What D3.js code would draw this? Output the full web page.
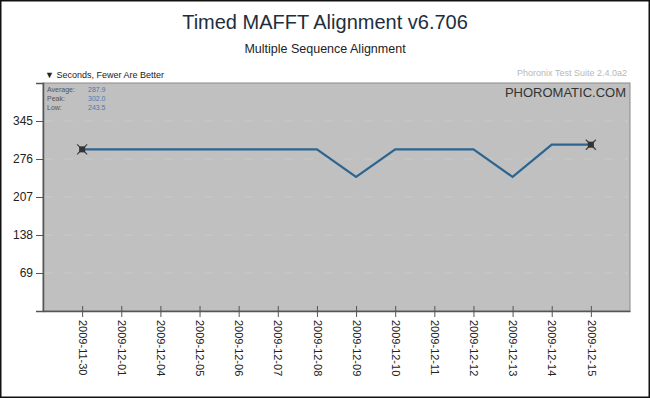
<!DOCTYPE html>
<html><head><meta charset="utf-8">
<script src="https://cdn.jsdelivr.net/npm/d3@7"></script>
<style>body{margin:0;background:#fff}svg{display:block}text{font-family:"Liberation Sans",Arial,sans-serif}</style>
</head><body>
<svg id="c" width="650" height="398"></svg>
<script>
const dates = ["2009-11-30","2009-12-01","2009-12-04","2009-12-05","2009-12-06","2009-12-07","2009-12-08","2009-12-09","2009-12-10","2009-12-11","2009-12-12","2009-12-13","2009-12-14","2009-12-15"];
const seconds = [293.5,293.5,293.5,293.5,293.5,293.5,293.5,243.5,293.5,293.5,293.5,243.5,302.0,302.0];
const yTicks = [69,138,207,276,345];
const statLabels = ["Average:","Peak:","Low:"];
const statValues = ["287.9","302.0","243.5"];

const svg = d3.select("#c");
const W=650,H=398;
const L=43,R=630,T=83,B=311;
svg.append("rect").attr("x",0.5).attr("y",0.5).attr("width",W-1).attr("height",H-1).attr("fill","#fff").attr("stroke","#111").attr("stroke-width",2);

const x = d3.scalePoint().domain(dates).range([L,R]).padding(1);
const y = d3.scaleLinear().domain([0,414]).range([B,T]);

svg.append("text").attr("x",325).attr("y",29).attr("text-anchor","middle").attr("font-size",20).attr("fill","#1e2e3e").text("Timed MAFFT Alignment v6.706");
svg.append("text").attr("x",325).attr("y",53).attr("text-anchor","middle").attr("font-size",12.5).attr("fill","#222").text("Multiple Sequence Alignment");
svg.append("text").attr("x",45).attr("y",78).attr("font-size",9).attr("fill","#222").text("▼ Seconds, Fewer Are Better");
svg.append("text").attr("x",627).attr("y",76).attr("text-anchor","end").attr("font-size",9).attr("fill","#b8b8b8").text("Phoronix Test Suite 2.4.0a2");

svg.append("rect").attr("x",L).attr("y",T).attr("width",R-L).attr("height",B-T).attr("fill","#c0c0c0").attr("stroke","#8a8a8a").attr("stroke-width",1);

// grid
svg.append("g").selectAll("line").data(yTicks).join("line")
  .attr("x1",L+2).attr("x2",R-2).attr("y1",d=>y(d)).attr("y2",d=>y(d))
  .attr("stroke","#cacac4").attr("stroke-dasharray","8,12").attr("stroke-width",1);

svg.append("text").attr("x",626).attr("y",97).attr("text-anchor","end").attr("font-size",13).attr("fill","#333").text("PHOROMATIC.COM");

const st = svg.append("g");
statLabels.forEach((s,i)=>{
  st.append("text").attr("x",47).attr("y",92+i*9).attr("font-size",7).attr("fill","#555").text(s);
  st.append("text").attr("x",88).attr("y",92+i*9).attr("font-size",7).attr("fill","#4a7ab0").text(statValues[i]);
});

// y axis
const ya = d3.axisLeft(y).tickValues(yTicks).tickSize(7).tickPadding(3);
const gy = svg.append("g").attr("transform",`translate(${L},0)`).call(ya);
gy.select(".domain").attr("stroke","#555").attr("stroke-width",1.5);
gy.selectAll(".tick line").attr("stroke","#555");
gy.selectAll(".tick text").attr("font-size",12).attr("fill","#222").attr("font-family","Liberation Sans, Arial, sans-serif");

// x axis
const xa = d3.axisBottom(x).tickSize(6).tickSizeOuter(0);
const gx = svg.append("g").attr("transform",`translate(0,${B})`).call(xa);
gx.select(".domain").attr("stroke","#555").attr("stroke-width",1.5);
gx.selectAll(".tick line").attr("stroke","#555").attr("y1",-5).attr("y2",6);
gx.selectAll(".tick text").attr("font-size",11).attr("fill","#222").attr("font-family","Liberation Sans, Arial, sans-serif")
  .attr("transform","rotate(90)").attr("text-anchor","start").attr("dy","0.35em").attr("x",9).attr("y",0);

// line
const line = d3.line().x((d,i)=>x(dates[i])).y(d=>y(d));
svg.append("path").datum(seconds).attr("d",line).attr("fill","none").attr("stroke","#2c6592").attr("stroke-width",2.2).attr("stroke-linejoin","miter");

// markers at first and last
const ends = [0, seconds.length-1];
const mk = svg.append("g").selectAll("g").data(ends).join("g")
  .attr("transform",i=>`translate(${x(dates[i])},${y(seconds[i])})`);
mk.append("path").attr("d","M-5,-5L5,5M-5,5L5,-5").attr("stroke","#444").attr("stroke-width",1.3);
mk.append("rect").attr("x",-3).attr("y",-3).attr("width",6).attr("height",6).attr("fill","#333");
</script>
</body></html>
